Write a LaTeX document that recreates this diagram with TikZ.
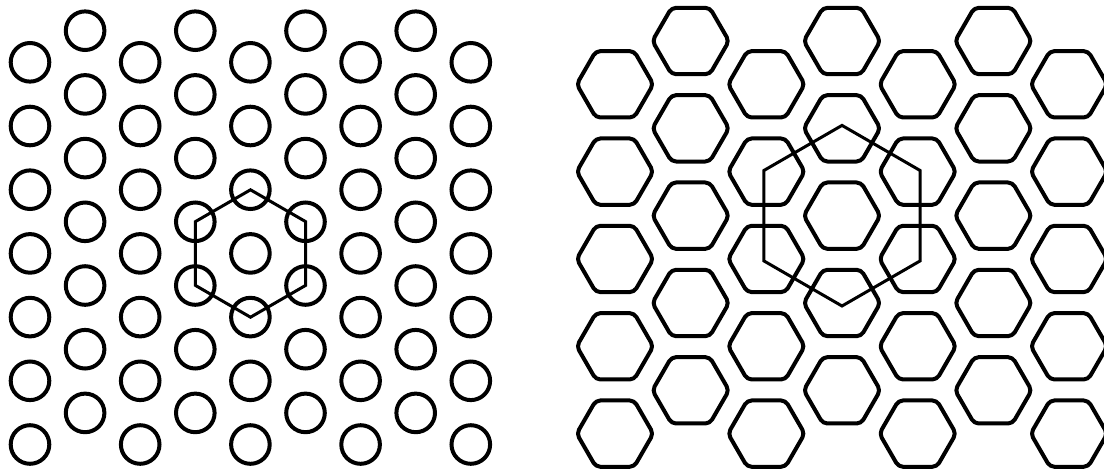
\documentclass[tikz,border=0pt]{standalone}
\begin{document}
\begin{tikzpicture}[x=1pt,y=-1pt,
  dotcell/.style={line width=4pt},
  hexcell/.style={line width=4pt, rounded corners=4.5pt, line join=round},
  frame/.style={line width=3pt, line join=miter}]
\useasboundingbox (0,0) rectangle (1104,472);
% left panel: circles on a hexagonal lattice
\foreach \i in {0,...,8}{
  \pgfmathsetmacro\cx{30+55.1*\i}
  \pgfmathsetmacro\cy{mod(\i,2)==1 ? 30.7 : 62.3}
  \foreach \k in {0,...,6}{
    \draw[dotcell] (\cx,\cy+63.7*\k) circle[radius=19.3pt];
  }
}
\draw[frame, shift={(250.5,253.5)}]
  (30:63.7) -- (90:63.7) -- (150:63.7) -- (210:63.7) -- (270:63.7) -- (330:63.7) -- cycle;
% right panel: hexagons on a hexagonal lattice
\foreach \j in {0,...,6}{
  \pgfmathsetmacro\hx{615+75.67*\j}
  \pgfmathsetmacro\hy{mod(\j,2)==1 ? 41 : 84.3}
  \foreach \k in {0,...,4}{
    \draw[hexcell, shift={(\hx,\hy+87.33*\k)}]
      (30:33.17) -- (60:38.3) -- (120:38.3) -- (180:38.3) -- (240:38.3) -- (300:38.3) -- (0:38.3) -- cycle;
  }
}
\draw[frame, shift={(842,215.7)}]
  (30:90.3) -- (90:90.3) -- (150:90.3) -- (210:90.3) -- (270:90.3) -- (330:90.3) -- cycle;
\end{tikzpicture}
\end{document}
